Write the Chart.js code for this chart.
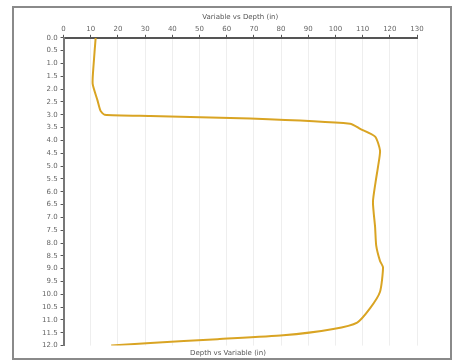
<!DOCTYPE html>
<html>
<head>
<meta charset="utf-8">
<script src="https://cdn.jsdelivr.net/npm/chart.js@4"></script>
<style>
  html, body { margin: 0; padding: 0; background: #fff; }
  #frame { position: absolute; left: 12px; top: 6px; width: 436px; height: 350px; border: 2px solid #8a8a8a; }
  #wrap { position: absolute; left: 0; top: 0; width: 461px; height: 360px; }
</style>
</head>
<body>
<div id="frame"></div>
<div id="wrap"><canvas id="myChart" width="461" height="360"></canvas></div>
<script>
// profile values (value along the top, depth downwards)
const depth = [0, 1.1, 1.8, 2.45, 2.85, 3.0, 3.05, 3.15, 3.35, 3.55, 3.85, 4.4, 5.0, 5.6, 6.4, 7.4, 8.1, 8.7, 8.95, 9.9, 10.55, 11.1, 11.35, 11.6, 11.75, 11.9, 12.0];
const value = [11.8, 11.0, 10.7, 12.5, 13.6, 15.1, 31.9, 68.7, 105.4, 109.1, 114.6, 116.4, 115.7, 114.8, 113.8, 114.6, 115.0, 116.4, 117.5, 116.4, 112.7, 108.0, 99.2, 80.8, 56.6, 31.9, 17.5];

const xTicks = [0, 10, 20, 30, 40, 50, 60, 70, 80, 90, 100, 110, 120, 130];
const yTicks = [0, 0.5, 1, 1.5, 2, 2.5, 3, 3.5, 4, 4.5, 5, 5.5, 6, 6.5, 7, 7.5, 8, 8.5, 9, 9.5, 10, 10.5, 11, 11.5, 12];

const topTitle = 'Variable vs Depth (in)';
const bottomTitle = 'Depth vs Variable (in)';

const points = depth.map((d, i) => ({ x: value[i], y: d }));

const ctx = document.getElementById('myChart');
new Chart(ctx, {
  type: 'scatter',
  data: {
    datasets: [
      {
        label: 'profile',
        data: points,
        showLine: true,
        borderColor: '#d9a423',
        borderWidth: 2,
        pointRadius: 0,
        tension: 0.2,
      },
    ],
  },
  options: {
    responsive: false,
    animation: false,
    layout: { padding: { left: 39, right: 44, top: 13, bottom: 3 } },
    plugins: {
      legend: { display: false },
      tooltip: { enabled: false },
      title: {
        display: true,
        position: 'bottom',
        text: bottomTitle,
        color: '#555',
        font: { family: 'DejaVu Sans', size: 7, weight: 'normal' },
        padding: { top: 3, bottom: 0 },
      },
    },
    scales: {
      x: {
        type: 'linear',
        position: 'top',
        min: 0,
        max: 130,
        afterBuildTicks: axis => { axis.ticks = xTicks.map(v => ({ value: v })); },
        ticks: { color: '#666', font: { family: 'DejaVu Sans', size: 7 }, padding: 1, maxRotation: 0 },
        grid: { color: '#eeeeee', tickColor: '#555', tickLength: 3 },
        border: { color: '#555', width: 2 },
        title: {
          display: true,
          text: topTitle,
          color: '#555',
          font: { family: 'DejaVu Sans', size: 7 },
          padding: { top: 0, bottom: 3 },
        },
      },
      y: {
        type: 'linear',
        reverse: true,
        min: 0,
        max: 12,
        afterBuildTicks: axis => { axis.ticks = yTicks.map(v => ({ value: v })); },
        ticks: {
          color: '#666',
          font: { family: 'DejaVu Sans', size: 7 },
          padding: 3,
          callback: v => v.toFixed(1),
        },
        grid: { drawOnChartArea: false, tickColor: '#555', tickLength: 3 },
        border: { color: '#777', width: 2 },
      },
    },
  },
});
</script>
</body>
</html>
